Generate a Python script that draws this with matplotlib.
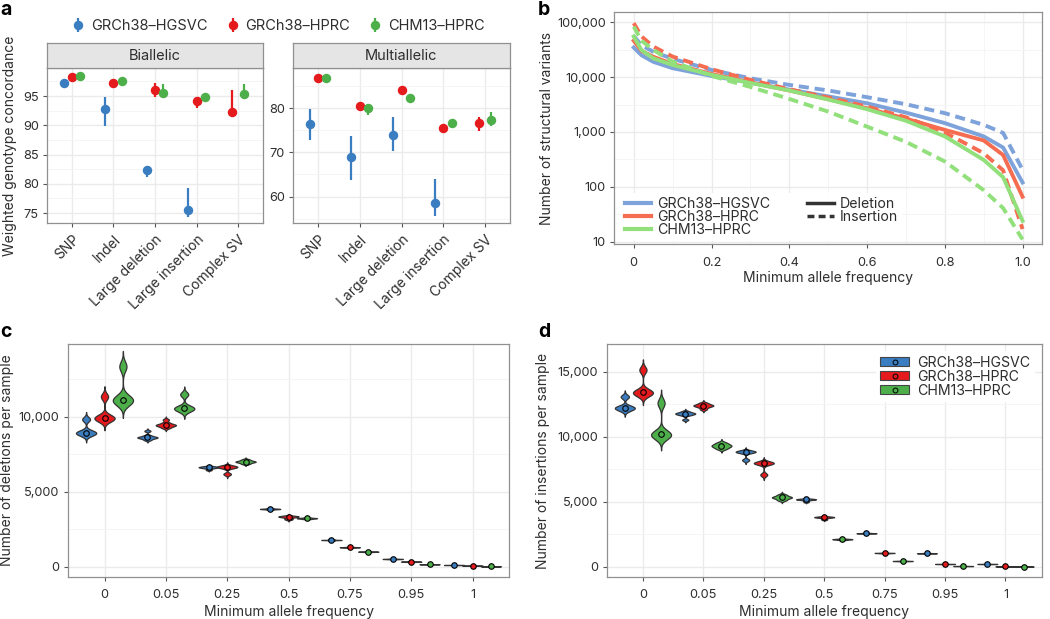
import numpy as np
import matplotlib
matplotlib.use("Agg")
import matplotlib.pyplot as plt
from matplotlib.lines import Line2D
from matplotlib.patches import Patch
from matplotlib.ticker import FixedLocator, FuncFormatter

plt.rcParams['font.family'] = ['Inter', 'DejaVu Sans']

# ---------------- data ----------------
refs = ["GRCh38–HGSVC", "GRCh38–HPRC", "CHM13–HPRC"]
dark_cols = ["#3a7dc0", "#e41a1c", "#4daf4a"]
light_cols = ["#7ea2da", "#f56c50", "#92e07c"]

# panel a
var_types = ["SNP", "Indel", "Large deletion", "Large insertion", "Complex SV"]
nan = np.nan
bi_hgsvc = [97.3, 92.8, 82.3, 75.6, nan]
bi_hgsvc_lo = [97.0, 89.8, 81.2, 74.4, nan]
bi_hgsvc_hi = [97.6, 94.9, 83.0, 79.2, nan]
bi_hprc38 = [98.2, 97.3, 96.0, 94.2, 92.3]
bi_hprc38_lo = [98.0, 97.0, 94.9, 93.0, 92.0]
bi_hprc38_hi = [98.4, 97.6, 97.2, 94.9, 96.0]
bi_chm13 = [98.5, 97.6, 95.6, 94.8, 95.3]
bi_chm13_lo = [98.3, 97.3, 95.0, 94.6, 94.7]
bi_chm13_hi = [98.7, 97.9, 97.0, 95.1, 97.0]

multi_hgsvc = [76.4, 69.0, 74.0, 58.5, nan]
multi_hgsvc_lo = [72.8, 63.8, 70.2, 55.5, nan]
multi_hgsvc_hi = [79.8, 73.6, 78.0, 63.9, nan]
multi_hprc38 = [86.9, 80.4, 84.1, 75.5, 76.7]
multi_hprc38_lo = [86.6, 79.5, 83.6, 75.0, 74.8]
multi_hprc38_hi = [87.2, 81.0, 84.6, 76.0, 78.0]
multi_chm13 = [86.9, 80.1, 82.3, 76.6, 77.4]
multi_chm13_lo = [86.6, 78.5, 81.8, 76.2, 76.0]
multi_chm13_hi = [87.2, 81.0, 82.8, 77.0, 79.2]

# panel b
maf = [0, 0.02, 0.05, 0.1, 0.2, 0.3, 0.4, 0.5, 0.6, 0.7, 0.8, 0.9, 0.95, 1.0]
del_hgsvc_n = [34500, 25000, 19000, 14500, 10500, 7900, 5900, 4450, 3330, 2250, 1450, 830, 520, 120]
ins_hgsvc_n = [56000, 38000, 29000, 21500, 13500, 9500, 7200, 5700, 4300, 3200, 2200, 1350, 960, 205]
del_hprc38_n = [46000, 30000, 23500, 17300, 11400, 8000, 5700, 3950, 2700, 1750, 1090, 700, 380, 66]
ins_hprc38_n = [96000, 55000, 36000, 23600, 13900, 8900, 6000, 4250, 2900, 1850, 980, 410, 200, 17]
del_chm13_n = [55000, 31000, 22000, 16600, 11000, 7800, 5700, 3900, 2600, 1600, 830, 310, 150, 24]
ins_chm13_n = [83000, 46000, 31300, 19200, 10500, 6600, 4000, 2350, 1250, 660, 290, 87, 41, 11]

# panels c, d: per-sample counts at each minimum allele frequency
maf_cats = ["0", "0.05", "0.25", "0.5", "0.75", "0.95", "1"]
del_hgsvc = [
    [8750, 8850, 8900, 8930, 8960, 9050, 9800, 9850],
    [8450, 8550, 8600, 8630, 8650, 8750, 9050],
    [6450, 6550, 6600, 6620, 6640, 6660, 6700],
    [3800, 3830, 3840, 3850, 3860, 3870, 3900],
    [1750, 1770, 1775, 1780, 1785, 1790, 1810],
    [495, 505, 510, 515, 520, 525, 535],
    [105, 108, 110, 113, 115, 118, 120],
]
del_hprc38 = [
    [9750, 9850, 9880, 9900, 9950, 10050, 11300, 11380],
    [9250, 9350, 9420, 9450, 9480, 9600, 9800],
    [6150, 6200, 6580, 6620, 6640, 6660, 6700, 6720],
    [3150, 3200, 3300, 3330, 3340, 3360, 3380],
    [1270, 1280, 1290, 1295, 1300, 1305, 1320],
    [320, 325, 330, 335, 340, 345, 350],
    [60, 63, 65, 67, 69, 71, 74],
]
del_chm13 = [
    [10900, 11000, 11080, 11110, 11150, 11300, 13300, 13400],
    [10350, 10450, 10540, 10560, 10600, 10700, 11450, 11520],
    [6850, 6920, 6980, 7000, 7020, 7080, 7150],
    [3180, 3200, 3220, 3230, 3240, 3250, 3280],
    [980, 990, 995, 1000, 1005, 1010, 1020],
    [150, 155, 158, 160, 162, 165, 170],
    [15, 18, 20, 22, 24, 26, 28],
]
ins_hgsvc = [
    [12000, 12100, 12200, 12230, 12260, 12350, 13050, 13100],
    [11300, 11650, 11720, 11770, 11800, 11850, 11950],
    [8180, 8230, 8780, 8810, 8830, 8850, 8880, 8900],
    [4980, 5080, 5150, 5170, 5180, 5200, 5230],
    [2540, 2555, 2565, 2570, 2575, 2585, 2600],
    [1010, 1020, 1027, 1031, 1035, 1042, 1050],
    [195, 200, 205, 208, 211, 215, 220],
]
ins_hprc38 = [
    [13200, 13300, 13380, 13410, 13440, 13550, 15100, 15180],
    [12100, 12250, 12350, 12390, 12420, 12500, 12600],
    [7050, 7100, 7900, 7940, 7960, 7980, 8010, 8040],
    [3620, 3700, 3780, 3800, 3810, 3830, 3860],
    [1030, 1040, 1050, 1055, 1060, 1065, 1080],
    [195, 200, 205, 208, 211, 215, 220],
    [18, 22, 24, 26, 28, 30, 34],
]
ins_chm13 = [
    [9950, 10050, 10150, 10180, 10220, 10320, 12550, 12620],
    [9050, 9150, 9250, 9300, 9350, 9450, 9550],
    [5100, 5200, 5300, 5330, 5360, 5450, 5550],
    [2060, 2080, 2100, 2110, 2120, 2130, 2150],
    [420, 428, 434, 438, 442, 448, 456],
    [42, 46, 49, 51, 53, 56, 60],
    [5, 7, 9, 10, 11, 13, 15],
]

# ---------------- helpers ----------------
W, H = 1050, 619
fig = plt.figure(figsize=(W / 100, H / 100), dpi=100)

TXT = "#2e2e2e"
TICK_FS = 9.2
LAB_FS = 10
LEG_FS = 10.5


def px_axes(l, t, r, b):
    return fig.add_axes([l / W, 1 - b / H, (r - l) / W, (b - t) / H])


def style(ax):
    for s in ax.spines.values():
        s.set_color("#909090")
        s.set_linewidth(0.9)
    ax.tick_params(which="major", length=3, width=0.8, color="#555555",
                   labelsize=TICK_FS, labelcolor=TXT, pad=3)
    ax.tick_params(which="minor", length=0)
    ax.grid(which="major", color="#ebebeb", lw=1.0)
    ax.grid(which="minor", color="#f4f4f4", lw=0.6)
    ax.set_axisbelow(True)


def ylab(x, y, s):
    fig.text(x / W, 1 - y / H, s, rotation=90, ha="center", va="center",
             fontsize=LAB_FS, color=TXT)


def xlab(x, y, s):
    fig.text(x / W, 1 - y / H, s, ha="center", va="center",
             fontsize=LAB_FS, color=TXT)


def violin(ax, x, samples, color, half_w=0.165):
    s = np.array(samples, float)
    q1, q3 = np.percentile(s, [25, 75])
    bw = 0.9 * min(s.std(ddof=1), (q3 - q1) / 1.34) * len(s) ** -0.2
    yy = np.linspace(s.min() - 3 * bw, s.max() + 3 * bw, 400)
    dens = np.exp(-0.5 * ((yy[:, None] - s[None, :]) / bw) ** 2).sum(axis=1)
    half = dens / dens.max() * half_w
    ax.fill_betweenx(yy, x - half, x + half, facecolor=color,
                     edgecolor="#333333", lw=0.9, zorder=3)
    ax.plot(x, np.median(s), "o", ms=4, mfc=color, mec="black", mew=0.8, zorder=4)


# ---------------- panel a ----------------
facets = [
    ("Biallelic", (47, 263), [(bi_hgsvc, bi_hgsvc_lo, bi_hgsvc_hi),
                              (bi_hprc38, bi_hprc38_lo, bi_hprc38_hi),
                              (bi_chm13, bi_chm13_lo, bi_chm13_hi)],
     (73.3, 99.8), [75, 80, 85, 90, 95]),
    ("Multiallelic", (293, 510), [(multi_hgsvc, multi_hgsvc_lo, multi_hgsvc_hi),
                                  (multi_hprc38, multi_hprc38_lo, multi_hprc38_hi),
                                  (multi_chm13, multi_chm13_lo, multi_chm13_hi)],
     (54.0, 89.1), [60, 70, 80]),
]
legend_handles = []
for title, (l, r), series, ylim, yticks in facets:
    ax = px_axes(l, 68, r, 223)
    style(ax)
    vals = [np.array(v, float) for v, lo, hi in series]
    # dodge the groups present at each category
    xs = [np.full(len(var_types), nan) for _ in series]
    for i in range(len(var_types)):
        present = [k for k in range(len(series)) if not np.isnan(vals[k][i])]
        n = len(present)
        for j, k in enumerate(present):
            xs[k][i] = i + (j - (n - 1) / 2) * 0.6 / n
    handles = []
    for k, (v, lo, hi) in enumerate(series):
        v = np.array(v, float)
        lo = np.array(lo, float)
        hi = np.array(hi, float)
        ok = ~np.isnan(v)
        h = ax.errorbar(xs[k][ok], v[ok], yerr=[v[ok] - lo[ok], hi[ok] - v[ok]],
                        fmt="o", color=dark_cols[k], ms=5.8, elinewidth=1.6,
                        capsize=0, zorder=3)
        handles.append(h)
    legend_handles = legend_handles or handles
    ax.set_xlim(-0.6, len(var_types) - 0.4)
    ax.set_ylim(*ylim)
    ax.set_xticks(range(len(var_types)))
    ax.set_xticklabels(var_types, rotation=45, ha="right", va="top",
                       rotation_mode="anchor", fontsize=10)
    ax.set_yticks(yticks)
    step = yticks[1] - yticks[0]
    ax.yaxis.set_minor_locator(FixedLocator(
        np.arange(yticks[0] - step / 2, ylim[1], step)))
    ax.xaxis.set_tick_params(pad=4)
    strip = px_axes(l, 43, r, 68)
    strip.set_facecolor("#e5e5e5")
    strip.set_xticks([])
    strip.set_yticks([])
    for s in strip.spines.values():
        s.set_color("#909090")
        s.set_linewidth(0.9)
    strip.text(0.5, 0.5, title, ha="center", va="center", fontsize=10.5,
               color=TXT, transform=strip.transAxes)

fig.legend(legend_handles, refs, loc="center", bbox_to_anchor=(278 / W, 1 - 26 / H),
           ncol=3, frameon=False, fontsize=LEG_FS, columnspacing=1.3,
           handlelength=0.9, handletextpad=0.4, labelcolor=TXT)
ylab(10, 146, "Weighted genotype concordance")

# ---------------- panel b ----------------
axb = px_axes(614.3, 12.3, 1042, 244.3)
style(axb)
b_series = [
    (del_hgsvc_n, 0, "-"), (ins_hgsvc_n, 0, "--"),
    (del_hprc38_n, 1, "-"), (ins_hprc38_n, 1, "--"),
    (del_chm13_n, 2, "-"), (ins_chm13_n, 2, "--"),
]
dash = (0, (2.6, 1.5))
for vals, k, ls in b_series:
    axb.plot(maf, vals, color=light_cols[k], lw=2.8,
             ls="-" if ls == "-" else dash, zorder=3)
axb.set_yscale("log")
axb.set_xlim(-0.05, 1.05)
axb.set_ylim(10 ** 0.953, 10 ** 5.18)
axb.set_yticks([10, 100, 1000, 10000, 100000])
axb.yaxis.set_major_formatter(FuncFormatter(lambda v, p: f"{v:,.0f}"))
axb.yaxis.set_minor_locator(FixedLocator([10 ** 1.5, 10 ** 2.5, 10 ** 3.5, 10 ** 4.5]))
axb.set_xticks([0, 0.2, 0.4, 0.6, 0.8, 1.0])
axb.set_xticklabels(["0", "0.2", "0.4", "0.6", "0.8", "1.0"])
axb.xaxis.set_minor_locator(FixedLocator([0.1, 0.3, 0.5, 0.7, 0.9]))
axb.tick_params(axis="x", pad=6)
axb.tick_params(which="minor", length=0)
bh = [Line2D([], [], color=c, lw=3) for c in light_cols]
bh += [Line2D([], [], color="#333333", lw=2.5),
       Line2D([], [], color="#333333", lw=2.5, ls=(0, (2, 1.2))),
       Line2D([], [], color="none")]
axb.legend(bh, refs + ["Deletion", "Insertion", ""], loc="lower left",
           bbox_to_anchor=(0.0, -0.015), ncol=2, fontsize=10.2, frameon=True,
           facecolor="white", edgecolor="none", framealpha=1,
           handlelength=1.85, handletextpad=0.45, labelspacing=-0.05,
           columnspacing=2.6, borderpad=0.25, labelcolor=TXT)
ylab(547, 128, "Number of structural variants")
xlab(828, 278, "Minimum allele frequency")

# ---------------- panels c, d ----------------
cd = [
    ((67.7, 509.3), [del_hgsvc, del_hprc38, del_chm13], (-667, 14827),
     [0, 5000, 10000], 7.5, "Number of deletions per sample"),
    ((606.7, 1041.7), [ins_hgsvc, ins_hprc38, ins_chm13], (-769, 17108),
     [0, 5000, 10000, 15000], 543, "Number of insertions per sample"),
]
axes_cd = []
for (l, r), groups, ylim, yticks, ylx, ytitle in cd:
    ax = px_axes(l, 344.3, r, 576.7)
    style(ax)
    for k, grp in enumerate(groups):
        for j, samples in enumerate(grp):
            violin(ax, j + (k - 1) * 0.3, samples, dark_cols[k])
    ax.set_xlim(-0.6, len(maf_cats) - 0.4)
    ax.set_ylim(*ylim)
    ax.set_xticks(range(len(maf_cats)))
    ax.set_xticklabels(maf_cats)
    ax.set_yticks(yticks)
    ax.yaxis.set_major_formatter(FuncFormatter(lambda v, p: f"{v:,.0f}"))
    ax.yaxis.set_minor_locator(FixedLocator(np.arange(2500, ylim[1], 5000)))
    ax.tick_params(axis="x", pad=6)
    ax.tick_params(which="minor", length=0)
    ylab(ylx, 460.5, ytitle)
    xlab((l + r) / 2, 612, "Minimum allele frequency")
    axes_cd.append(ax)

dh = [(Patch(facecolor=c, edgecolor="#444444", lw=0.8),
       Line2D([], [], marker="o", ls="", ms=3.5, mfc=c, mec="black", mew=0.7))
      for c in dark_cols]
axes_cd[1].legend(dh, refs, loc="upper right", bbox_to_anchor=(1.0, 1.0),
                  fontsize=10.2, frameon=True, facecolor="white", edgecolor="none",
                  framealpha=1, handlelength=2.0, handleheight=0.6,
                  handletextpad=0.6, labelspacing=0.0, borderpad=0.3,
                  labelcolor=TXT)

# panel letters
for s, x, y in [("a", 0, 10), ("b", 538, 10), ("c", 0, 332), ("d", 538, 332)]:
    fig.text(x / W, 1 - y / H, s, fontsize=14, fontweight="bold",
             ha="left", va="center")

fig.savefig("out.png", dpi=100)
